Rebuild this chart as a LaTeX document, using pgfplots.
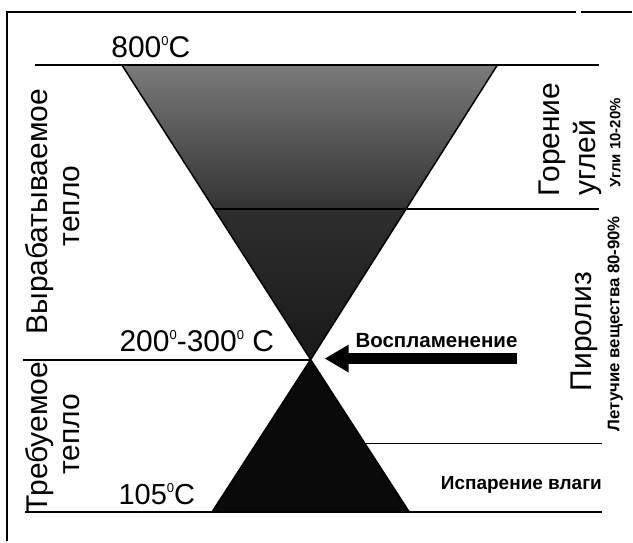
\documentclass[border=0pt]{standalone}
\usepackage{fontspec}
\setmainfont{Liberation Sans}
\usepackage{pgfplots}
\pgfplotsset{compat=1.18}
\usetikzlibrary{arrows.meta}
\newcommand\dg{\raisebox{12pt}{\fontsize{13}{13}\selectfont 0}}
\begin{document}
\begin{tikzpicture}
\begin{axis}[width=633pt,height=542pt,scale only axis,axis lines=none,
  xmin=0,xmax=633,ymin=0,ymax=542,y dir=reverse,clip=false]
\addplot[draw=none, mark=none, forget plot] coordinates {(0,0)(633,542)};
% shaded regions
\addplot[draw=none, top color=black!52, bottom color=black!80] coordinates {(122,65)(498,65)(407,209)(214,209)} -- cycle;
\addplot[draw=none, top color=black!82, bottom color=black!90] coordinates {(214,209)(407,209)(311,360)} -- cycle;
\addplot[draw=none, fill=black!96] coordinates {(311,360)(410,513)(212,513)} -- cycle;
% triangle edges
\addplot[black, line width=1.5pt] coordinates {(122,65)(311,360)(498,65)};
\addplot[black, line width=1.5pt] coordinates {(212,513)(311,360)(410,513)};
% horizontal lines
\addplot[black, line width=2pt] coordinates {(35,65)(600,65)};
\addplot[black, line width=2pt] coordinates {(214,209)(600,209)};
\addplot[black, line width=2pt] coordinates {(23,360)(311,360)};
\addplot[black, line width=1.8pt] coordinates {(365,444)(603,444)};
\addplot[black, line width=2pt] coordinates {(25,513)(603,513)};
% frame
\addplot[black, line width=1.5pt] coordinates {(7,542)(7,12)(577,12)};
\addplot[black, line width=1.5pt] coordinates {(582,12)(633,12)};
% arrow
\addplot[black, line width=11pt, -{Triangle[width=26pt,length=24pt]}] coordinates {(518,359)(325,359)};
% texts
\node[anchor=base, font=\fontsize{30}{30}\selectfont] at (axis cs:151,58) {800\dg C};
\node[anchor=base, font=\fontsize{30}{30}\selectfont] at (axis cs:197,352) {200\dg-300\dg\ C};
\node[anchor=base, font=\fontsize{29}{30}\selectfont] at (axis cs:157,505) {105\dg C};
\node[anchor=base, font=\bfseries\fontsize{20.5}{22}\selectfont] at (axis cs:437,348) {Воспламенение};
\node[anchor=base, font=\bfseries\fontsize{19}{20}\selectfont] at (axis cs:522,490) {Испарение влаги};
\node[rotate=90, font=\fontsize{30}{30}\selectfont] at (axis cs:40,212) {Вырабатываемое};
\node[rotate=90, font=\fontsize{30}{30}\selectfont] at (axis cs:72,206) {тепло};
\node[rotate=90, font=\fontsize{30}{30}\selectfont] at (axis cs:40,438) {Требуемое};
\node[rotate=90, font=\fontsize{30}{30}\selectfont] at (axis cs:72,435) {тепло};
\node[rotate=90, font=\fontsize{30}{30}\selectfont] at (axis cs:553,140) {Горение};
\node[rotate=90, font=\fontsize{30}{30}\selectfont] at (axis cs:588,158) {углей};
\node[rotate=90, font=\bfseries\fontsize{15}{16}\selectfont] at (axis cs:616,143) {Угли 10-20\%};
\node[rotate=90, font=\fontsize{30}{30}\selectfont] at (axis cs:585,332) {Пиролиз};
\node[rotate=90, font=\bfseries\fontsize{16.8}{18}\selectfont] at (axis cs:616,324) {Летучие вещества 80-90\%};
\end{axis}
\end{tikzpicture}
\end{document}
